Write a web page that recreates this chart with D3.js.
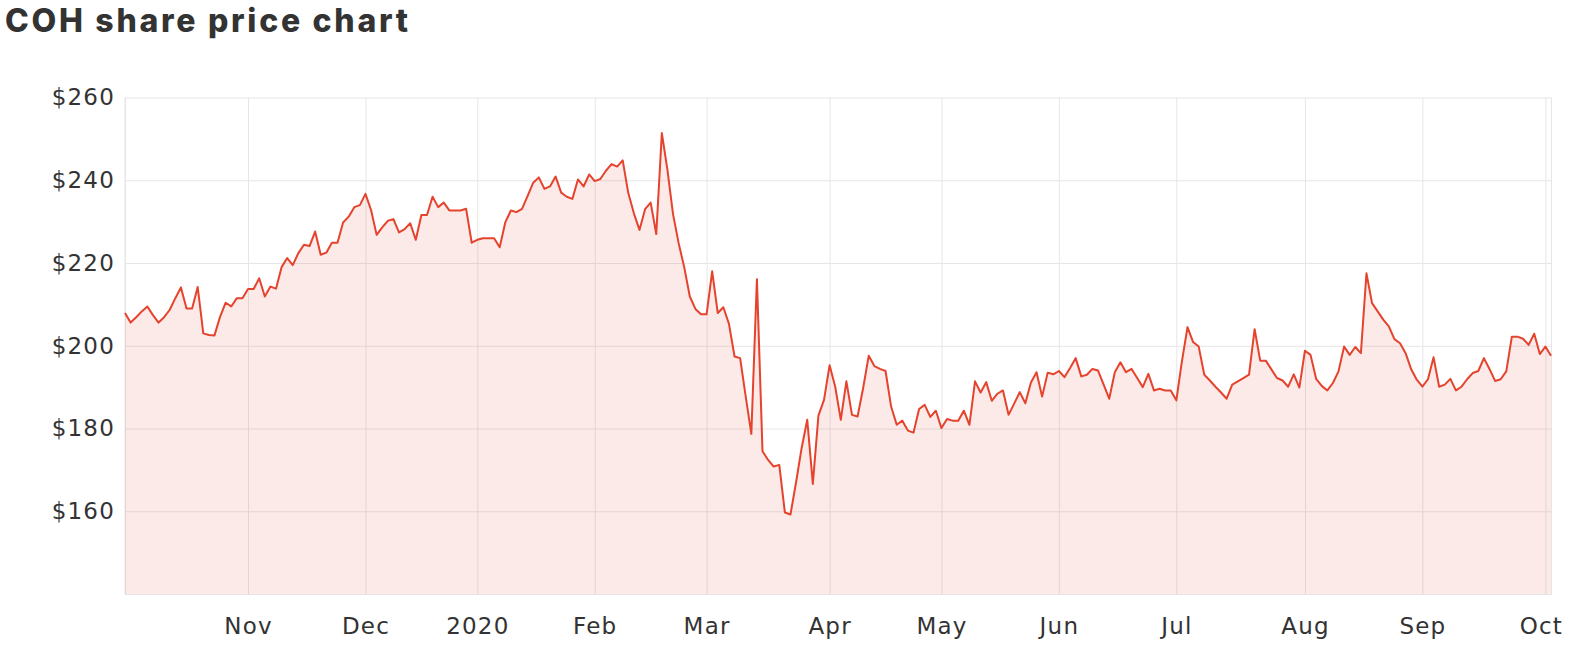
<!DOCTYPE html>
<meta charset="utf-8">
<style>
body { margin: 0; background: #fff; }
text { font-family: "DejaVu Sans", "Open Sans", sans-serif; }
</style>
<body>
<script src="https://d3js.org/d3.v7.min.js"></script>
<script>

// COH closing price, one value per ASX trading day starting 2 Oct 2019
let prices = [
	207.9, 205.6, 206.9, 208.3, 209.5, 207.4, 205.6, 206.9, 208.7, 211.5,
	214.1, 209.0, 209.0, 214.2, 203.0, 202.6, 202.5, 207.0, 210.4, 209.5,
	211.5, 211.5, 213.7, 213.7, 216.3, 211.9, 214.3, 213.8, 219.0, 221.2,
	219.5, 222.4, 224.4, 224.1, 227.6, 222.0, 222.5, 224.9, 224.9, 229.8,
	231.2, 233.5, 234.0, 236.7, 232.8, 226.8, 228.6, 230.2, 230.6, 227.4,
	228.2, 229.6, 225.6, 231.6, 231.6, 236.0, 233.5, 234.6, 232.7, 232.7,
	232.7, 233.1, 224.9, 225.6, 226.0, 226.0, 226.0, 223.8, 229.8, 232.7,
	232.3, 233.1, 236.2, 239.4, 240.7, 237.9, 238.5, 240.9, 237.0, 236.0,
	235.5, 240.2, 238.5, 241.4, 239.8, 240.3, 242.3, 243.9, 243.3, 244.8,
	236.9, 232.0, 228.0, 233.0, 234.6, 227.0, 251.4, 242.5, 231.8, 224.8,
	219.0, 211.9, 208.9, 207.6, 207.6, 218.0, 207.9, 209.3, 205.3, 197.4,
	197.0, 187.7, 178.7, 216.1, 174.5, 172.4, 170.8, 171.2, 159.7, 159.2,
	167.0, 175.3, 182.1, 166.6, 183.1, 186.9, 195.3, 190.1, 182.1, 191.4,
	183.3, 182.9, 189.8, 197.6, 195.1, 194.4, 193.9, 185.3, 180.9, 181.9,
	179.5, 179.0, 184.7, 185.7, 182.8, 184.3, 180.1, 182.3, 181.9, 181.9,
	184.3, 180.9, 191.4, 188.7, 191.2, 186.7, 188.4, 189.2, 183.3, 186.0,
	188.8, 186.1, 191.1, 193.6, 187.7, 193.5, 193.1, 193.9, 192.4, 194.6,
	197.0, 192.6, 193.0, 194.4, 194.0, 190.6, 187.2, 193.6, 196.0, 193.6,
	194.4, 192.2, 190.0, 193.2, 189.2, 189.6, 189.2, 189.2, 186.8, 196.2,
	204.5, 200.9, 199.8, 193.0, 191.6, 190.1, 188.7, 187.2, 190.6, 191.4,
	192.2, 193.0, 204.0, 196.4, 196.4, 194.3, 192.2, 191.6, 190.1, 193.1,
	189.9, 198.8, 197.8, 192.0, 190.3, 189.2, 191.0, 193.8, 199.8, 197.8,
	199.7, 198.2, 217.5, 210.3, 208.3, 206.3, 204.7, 201.6, 200.6, 198.2,
	194.3, 191.8, 190.1, 191.9, 197.2, 190.1, 190.6, 192.0, 189.2, 190.1,
	191.9, 193.4, 193.9, 197.0, 194.4, 191.5, 191.9, 193.8, 202.2, 202.2,
	201.7, 200.2, 202.9, 198.0, 199.8, 197.6
];
let startDate = '2019-10-02';
let holidays = ['2019-12-25', '2019-12-26', '2020-01-01', '2020-01-27',
	'2020-04-10', '2020-04-13', '2020-06-08'];
let monthLabels = ['Nov', 'Dec', '2020', 'Feb', 'Mar', 'Apr', 'May', 'Jun',
	'Jul', 'Aug', 'Sep', 'Oct'];
let priceTicks = [160, 180, 200, 220, 240, 260];

let width = 1572;
let height = 650;
let margin = {top: 97.5, right: 21, bottom: 56, left: 125};

// trading days: weekdays that are not exchange holidays
let fmt = d3.timeFormat('%Y-%m-%d');
let dates = [];
let day = d3.timeParse('%Y-%m-%d')(startDate);
while (dates.length < prices.length) {
	let wd = day.getDay();
	if (wd != 0 && wd != 6 && holidays.indexOf(fmt(day)) < 0) dates.push(new Date(day));
	day = d3.timeDay.offset(day, 1);
}
let data = prices.map((p, i) => ({i: i, date: dates[i], price: p}));

// first trading day of each month gets a tick
let monthStarts = data.filter((d, i) => i > 0 && d.date.getMonth() != dates[i - 1].getMonth());

let x = d3.scaleLinear()
	.domain([0, prices.length - 1])
	.range([margin.left, width - margin.right]);
let y = d3.scaleLinear()
	.domain([140, 260])
	.range([height - margin.bottom, margin.top]);

let svg = d3.select('body').append('svg')
	.attr('width', width)
	.attr('height', height);

svg.append('text')
	.attr('x', 5)
	.attr('y', 32)
	.attr('textLength', 403)
	.attr('lengthAdjust', 'spacing')
	.style('font-family', 'Inter, "Open Sans", sans-serif')
	.style('font-weight', 800)
	.style('font-size', '32px')
	.style('fill', '#333')
	.text('COH share price chart');

// horizontal grid + price labels
let yAxis = d3.axisLeft(y)
	.tickValues([140].concat(priceTicks))
	.tickSize(-(width - margin.right - margin.left))
	.tickPadding(10)
	.tickFormat(d => d == 140 ? '' : '$' + d);
let gy = svg.append('g')
	.attr('transform', 'translate(' + margin.left + ',0)')
	.call(yAxis);
gy.select('.domain').remove();
gy.selectAll('line').attr('stroke', '#e6e6e6');
gy.selectAll('text')
	.attr('x', -10)
	.style('font-size', '23px')
	.style('letter-spacing', '1.2px')
	.style('fill', '#333');

// vertical grid + month labels
let xAxis = d3.axisBottom(x)
	.tickValues(monthStarts.map(d => d.i))
	.tickSize(-(height - margin.bottom - margin.top))
	.tickFormat((d, k) => monthLabels[k]);
let gx = svg.append('g')
	.attr('transform', 'translate(0,' + (height - margin.bottom) + ')')
	.call(xAxis);
gx.select('.domain').attr('stroke', '#e6e6e6');
gx.selectAll('line').attr('stroke', '#e6e6e6');
gx.selectAll('text')
	.attr('y', 40)
	.attr('dy', 0)
	.style('font-size', '23px')
	.style('letter-spacing', '1.2px')
	.style('fill', '#333');
// keep the last label inside the chart
gx.selectAll('text').each(function() {
	let b = this.getBBox();
	let tx = d3.select(this.parentNode).attr('transform');
	let cx = +tx.match(/translate\(([\d.]+)/)[1];
	let over = cx + b.x + b.width - (width - 9);
	if (over > 0) d3.select(this).attr('x', -over);
});

// left edge line
svg.append('line')
	.attr('x1', margin.left).attr('x2', margin.left)
	.attr('y1', margin.top).attr('y2', height - margin.bottom)
	.attr('stroke', '#e6e6e6');

let area = d3.area()
	.x(d => x(d.i))
	.y0(y(140))
	.y1(d => y(d.price));
let line = d3.line()
	.x(d => x(d.i))
	.y(d => y(d.price));

svg.append('path')
	.datum(data)
	.attr('d', area)
	.attr('fill', 'rgba(229,67,45,0.11)');
svg.append('path')
	.datum(data)
	.attr('d', line)
	.attr('fill', 'none')
	.attr('stroke', '#e5432d')
	.attr('stroke-width', 2)
	.attr('stroke-linejoin', 'round');

</script>
</body>
